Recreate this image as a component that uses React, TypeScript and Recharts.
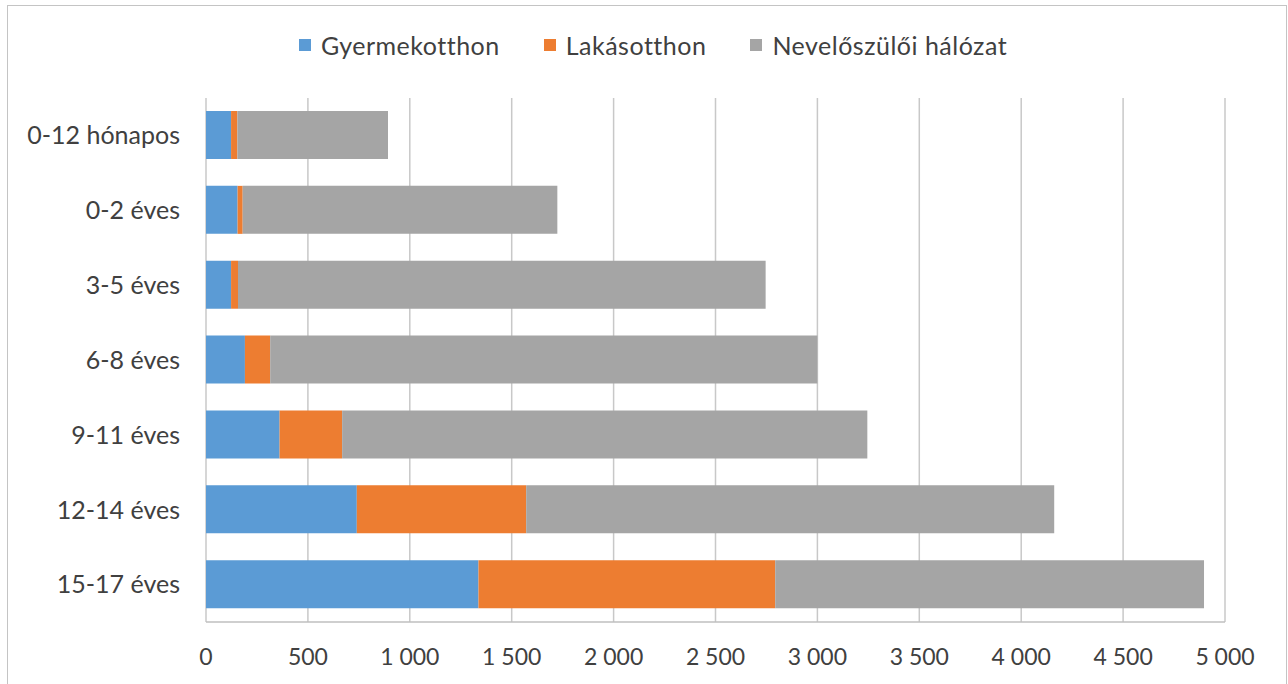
import React from "react";
import { BarChart, Bar, XAxis, YAxis, CartesianGrid } from "recharts";

const categories = ["0-12 hónapos", "0-2 éves", "3-5 éves", "6-8 éves", "9-11 éves", "12-14 éves", "15-17 éves"];
const gyermekotthon = [123, 155, 123, 191, 361, 740, 1337];
const lakasotthon = [31, 25, 34, 124, 307, 831, 1456];
const nevelo = [739, 1544, 2589, 2685, 2577, 2591, 2104];
const xTicks = [0, 500, 1000, 1500, 2000, 2500, 3000, 3500, 4000, 4500, 5000];

const series = [
  { key: "gy", name: "Gyermekotthon", color: "#5B9BD5" },
  { key: "la", name: "Lakásotthon", color: "#ED7D31" },
  { key: "ne", name: "Nevelőszülői hálózat", color: "#A5A5A5" },
];

const data = categories.map((c, i) => ({ name: c, gy: gyermekotthon[i], la: lakasotthon[i], ne: nevelo[i] }));

const FONT = "Lato, 'Open Sans', sans-serif";
const TXT = "#404040";

const fmt = (v: number) => (v >= 1000 ? `${Math.floor(v / 1000)} ${String(v % 1000).padStart(3, "0")}` : String(v));

export default function App() {
  return (
    <div style={{ position: "absolute", left: 0, top: 0, width: 1288, height: 684, overflow: "hidden", background: "#fff" }}>
      <style>{"body{margin:0}"}</style>
      <div style={{ position: "absolute", left: 7, top: 5, width: 1278, height: 720, border: "1.5px solid #c4c4c4" }} />
      <div style={{ position: "absolute", left: 0, top: 30, width: 1306, display: "flex", justifyContent: "center", fontFamily: FONT, fontSize: 25, color: TXT }}>
        {series.map((s) => (
          <div key={s.key} style={{ display: "flex", alignItems: "center", margin: "0 22px" }}>
            <span style={{ display: "inline-block", width: 12, height: 12, background: s.color, marginRight: 10 }} />
            <span style={{ letterSpacing: 0.5 }}>{s.name}</span>
          </div>
        ))}
      </div>
      <div style={{ position: "absolute", left: 0, top: 0 }}>
        <BarChart width={1288} height={684} data={data} layout="vertical" margin={{ top: 98, right: 63, bottom: 22, left: 0 }} barSize={48}>
          <CartesianGrid horizontal={false} vertical={true} stroke="#c8c8c8" strokeWidth={1.5} />
          <XAxis
            type="number"
            domain={[0, 5000]}
            ticks={xTicks}
            interval={0}
            tickFormatter={fmt}
            axisLine={{ stroke: "#bfbfbf", strokeWidth: 1.5 }}
            tickLine={false}
            tickSize={0}
            tickMargin={27}
            height={40}
            tick={{ fill: TXT, fontFamily: FONT, fontSize: 23 }}
          />
          <YAxis
            type="category"
            dataKey="name"
            width={206}
            axisLine={false}
            tickLine={false}
            tickSize={0}
            tickMargin={26}
            tick={{ fill: TXT, fontFamily: FONT, fontSize: 25 }}
          />
          {series.map((s) => (
            <Bar key={s.key} dataKey={s.key} name={s.name} stackId="a" fill={s.color} isAnimationActive={false} />
          ))}
        </BarChart>
      </div>
    </div>
  );
}
